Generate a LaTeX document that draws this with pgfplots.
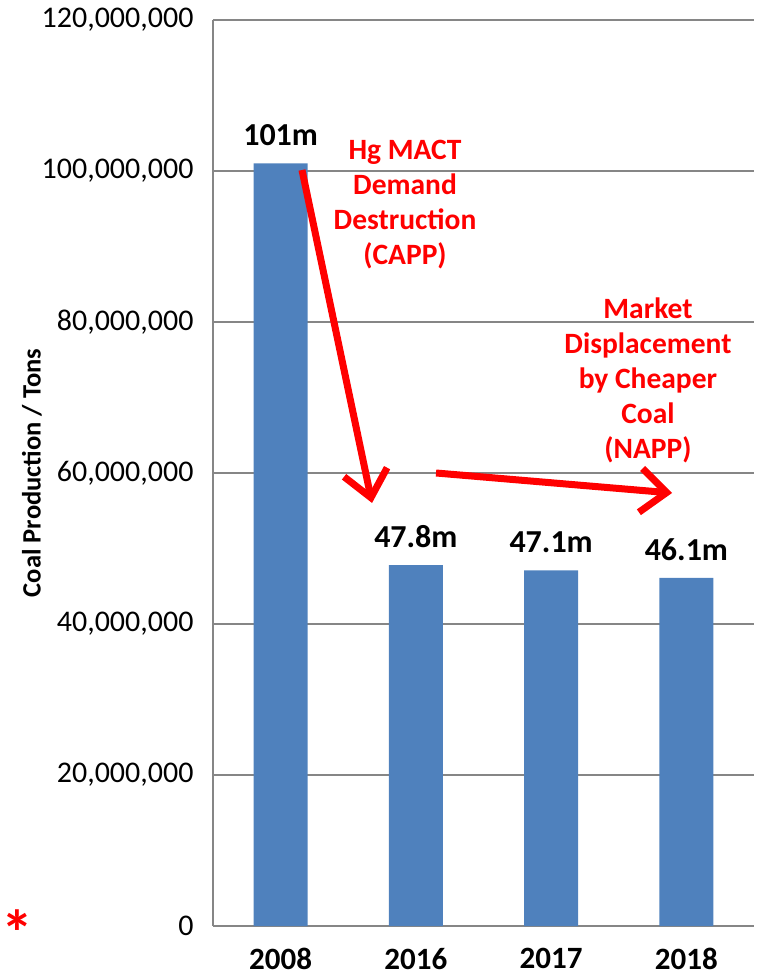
\documentclass[border=0pt]{standalone}
\usepackage{pgfplots}
\pgfplotsset{compat=1.18}
\usetikzlibrary{arrows.meta}
\usepackage{fontspec}
\setmainfont{Carlito}
\definecolor{barblue}{HTML}{4F81BD}
\definecolor{gridgray}{HTML}{868686}
\begin{document}
\begin{tikzpicture}
\begin{axis}[
  scale only axis, width=541pt, height=906pt,
  xmin=-0.5, xmax=3.5, ymin=0, ymax=120000000,
  ybar, bar width=54pt,
  axis x line*=bottom, axis y line*=left,
  axis line style={gridgray, line width=1.5pt},
  ytick={0,20000000,40000000,60000000,80000000,100000000,120000000},
  ymajorgrids, grid style={gridgray, line width=1.5pt},
  major tick length=0pt,
  xtick={0,1,2,3}, xticklabels={2008,2016,2017,2018},
  xticklabel style={font=\fontsize{31}{33}\selectfont\bfseries, yshift=-19pt},
  yticklabel style={font=\fontsize{30}{32}\selectfont, xshift=-16pt,
    /pgf/number format/fixed, /pgf/number format/precision=0,
    /pgf/number format/1000 sep={,}, /pgf/number format/assume math mode=true},
  scaled y ticks=false,
  ylabel={Coal Production / Tons},
  ylabel style={font=\fontsize{26.5}{28}\selectfont\bfseries, at={(axis description cs:-0.3346,0.5)}, anchor=center},
  clip=false,
]
\addplot[fill=barblue, draw=none, nodes near coords, point meta=explicit symbolic,
  nodes near coords style={font=\fontsize{32}{34}\selectfont\bfseries, black, yshift=14pt}]
  coordinates {(0,101000000)[101m] (1,47800000)[47.8m] (2,47100000)[47.1m] (3,46100000)[46.1m]};
\draw[red, line width=7pt, -{Straight Barb[length=26pt, width=44pt]}]
  (axis cs:0.158,100130000) -- (axis cs:0.676,56030000);
\draw[red, line width=7pt, -{Straight Barb[length=26pt, width=44pt]}]
  (axis cs:1.149,60000000) -- (axis cs:2.894,57350000);
\node[red, align=center, font=\fontsize{29.5}{35}\selectfont\bfseries] at (axis cs:0.92,95500000)
  {Hg MACT\\Demand\\Destruction\\(CAPP)};
\node[red, align=center, font=\fontsize{29.5}{35}\selectfont\bfseries] at (axis cs:2.716,72300000)
  {Market\\Displacement\\by Cheaper\\Coal\\(NAPP)};
\coordinate (bl) at (rel axis cs:0,0);
\node[red, font=\fontsize{64}{64}\selectfont\bfseries, inner sep=0pt] at ([xshift=-196pt,yshift=-7pt]bl) {*};
\end{axis}
\pgfresetboundingbox
\path (bl) ++(-213pt,-53pt) rectangle ++(757pt,979pt);
\end{tikzpicture}
\end{document}
